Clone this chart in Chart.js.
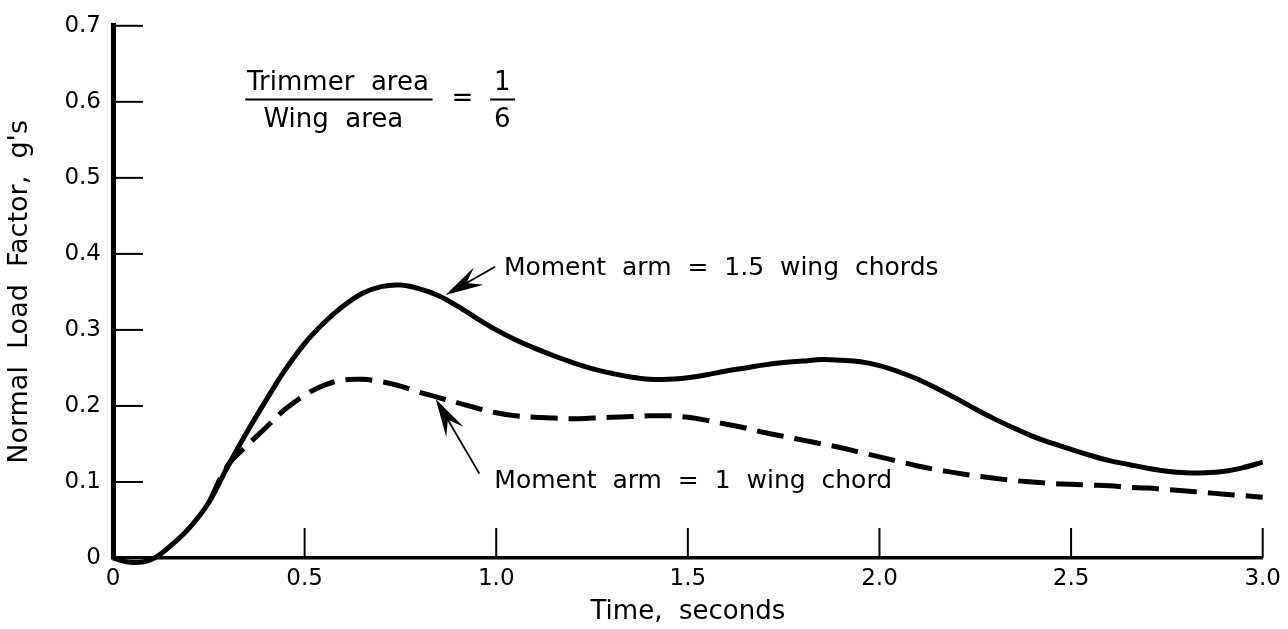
<!DOCTYPE html>
<html>
<head>
<meta charset="utf-8">
<script src="https://cdn.jsdelivr.net/npm/chart.js@4"></script>
<style>
  html, body { margin: 0; padding: 0; background: #fff; }
  #wrap { width: 1288px; height: 629px; }
</style>
</head>
<body>
<div id="wrap"><canvas id="loadChart" width="1288" height="629"></canvas></div>
<script>
// values
const xTicks = [0, 0.5, 1.0, 1.5, 2.0, 2.5, 3.0];
const yTicks = [0, 0.1, 0.2, 0.3, 0.4, 0.5, 0.6, 0.7];

// moment arm = 1.5 wing chords (solid), read every 0.05 s
const solidTime = [0, 0.05, 0.1, 0.15, 0.2, 0.25, 0.3, 0.35, 0.4, 0.45, 0.5, 0.55, 0.6, 0.65, 0.7, 0.75, 0.8, 0.85, 0.9, 0.95,
  1.0, 1.05, 1.1, 1.15, 1.2, 1.25, 1.3, 1.35, 1.4, 1.45, 1.5, 1.55, 1.6, 1.65, 1.7, 1.75, 1.8, 1.85, 1.9, 1.95,
  2.0, 2.05, 2.1, 2.15, 2.2, 2.25, 2.3, 2.35, 2.4, 2.45, 2.5, 2.55, 2.6, 2.65, 2.7, 2.75, 2.8, 2.85, 2.9, 2.95, 3.0];
const solidLoad = [0, -0.006, -0.002, 0.016, 0.04, 0.073, 0.121, 0.166, 0.208, 0.248, 0.282, 0.309, 0.331, 0.348, 0.357, 0.359, 0.354, 0.345, 0.331, 0.315,
  0.3, 0.287, 0.276, 0.266, 0.257, 0.249, 0.243, 0.238, 0.235, 0.235, 0.237, 0.241, 0.246, 0.25, 0.254, 0.257, 0.259, 0.261, 0.26, 0.258,
  0.253, 0.245, 0.235, 0.223, 0.21, 0.196, 0.183, 0.171, 0.16, 0.151, 0.143, 0.135, 0.128, 0.123, 0.118, 0.114, 0.112, 0.112, 0.114, 0.119, 0.126];

// moment arm = 1 wing chord (dashed), leaves the solid curve near 0.3 s
const dashTime = [0.25, 0.3, 0.35, 0.4, 0.45, 0.5, 0.55, 0.6, 0.65, 0.7, 0.75, 0.8, 0.85, 0.9, 0.95,
  1.0, 1.05, 1.1, 1.15, 1.2, 1.25, 1.3, 1.35, 1.4, 1.45, 1.5, 1.55, 1.6, 1.65, 1.7, 1.75, 1.8, 1.85, 1.9, 1.95,
  2.0, 2.05, 2.1, 2.15, 2.2, 2.25, 2.3, 2.35, 2.4, 2.45, 2.5, 2.55, 2.6, 2.65, 2.7, 2.75, 2.8, 2.85, 2.9, 2.95, 3.0];
const dashLoad = [0.073, 0.122, 0.148, 0.172, 0.196, 0.214, 0.227, 0.234, 0.235, 0.232, 0.226, 0.218, 0.211, 0.204, 0.197,
  0.191, 0.187, 0.185, 0.184, 0.183, 0.184, 0.185, 0.186, 0.187, 0.187, 0.185, 0.181, 0.176, 0.171, 0.165, 0.16, 0.155, 0.15, 0.145, 0.139,
  0.133, 0.127, 0.121, 0.116, 0.112, 0.108, 0.105, 0.102, 0.1, 0.098, 0.097, 0.096, 0.095, 0.093, 0.092, 0.09, 0.088, 0.086, 0.084, 0.082, 0.08];

const FONT = '"DejaVu Sans", sans-serif';

function toPoints(xs, ys) {
  return xs.map((x, i) => ({ x: x, y: ys[i] }));
}

// ticks pointing into the plot, like the original drawing
const inwardTicks = {
  id: 'inwardTicks',
  afterDraw(chart) {
    const { ctx, chartArea: a, scales } = chart;
    ctx.save();
    ctx.strokeStyle = '#000';
    ctx.lineWidth = 2;
    yTicks.forEach(v => {
      if (v === 0) return;
      const y = scales.y.getPixelForValue(v);
      ctx.beginPath(); ctx.moveTo(a.left, y); ctx.lineTo(a.left + 30, y); ctx.stroke();
    });
    xTicks.forEach(v => {
      if (v === 0) return;
      const x = scales.x.getPixelForValue(v);
      ctx.beginPath(); ctx.moveTo(x, a.bottom); ctx.lineTo(x, a.bottom - 30); ctx.stroke();
    });
    ctx.restore();
  }
};

function arrow(ctx, x1, y1, x2, y2) {
  const ang = Math.atan2(y2 - y1, x2 - x1);
  const len = 38, half = 10, notch = 24;
  const cx = Math.cos(ang), sy = Math.sin(ang);
  ctx.beginPath(); ctx.moveTo(x1, y1);
  ctx.lineTo(x2 - cx * notch, y2 - sy * notch);
  ctx.stroke();
  const bx = x2 - cx * len, by = y2 - sy * len;
  const nx = -sy * half, ny = cx * half;
  ctx.beginPath();
  ctx.moveTo(x2, y2);
  ctx.lineTo(bx + nx, by + ny);
  ctx.lineTo(x2 - cx * notch, y2 - sy * notch);
  ctx.lineTo(bx - nx, by - ny);
  ctx.closePath();
  ctx.fill();
}

const notes = {
  id: 'notes',
  afterDraw(chart) {
    const { ctx, scales: { x, y } } = chart;
    const px = v => x.getPixelForValue(v), py = v => y.getPixelForValue(v);
    ctx.save();
    ctx.fillStyle = '#000';
    ctx.strokeStyle = '#000';
    ctx.font = '25px ' + FONT;
    ctx.textBaseline = 'middle';

    // labels with arrows
    ctx.textAlign = 'left';
    ctx.fillText('Moment  arm  =  1.5  wing  chords', px(1.02), py(0.381));
    ctx.fillText('Moment  arm  =  1  wing  chord', px(0.995), py(0.101));
    ctx.lineWidth = 1.8;
    arrow(ctx, px(0.997), py(0.383), px(0.868), py(0.346));
    arrow(ctx, px(0.956), py(0.111), px(0.842), py(0.209));

    // area ratio
    ctx.font = '26px ' + FONT;
    ctx.textAlign = 'center';
    ctx.fillText('Trimmer  area', px(0.587), py(0.624));
    ctx.fillText('Wing  area', px(0.575), py(0.576));
    ctx.fillText('=', px(0.912), py(0.603));
    ctx.fillText('1', px(1.016), py(0.624));
    ctx.fillText('6', px(1.016), py(0.576));
    ctx.lineWidth = 2;
    ctx.beginPath();
    ctx.moveTo(px(0.345), py(0.603)); ctx.lineTo(px(0.834), py(0.603));
    ctx.moveTo(px(0.984), py(0.603)); ctx.lineTo(px(1.049), py(0.603));
    ctx.stroke();
    ctx.restore();
  }
};

new Chart(document.getElementById('loadChart'), {
  type: 'scatter',
  data: {
    datasets: [
      {
        label: 'Moment arm = 1.5 wing chords',
        data: toPoints(solidTime, solidLoad),
        showLine: true,
        borderColor: '#000',
        borderWidth: 5,
        pointRadius: 0,
        tension: 0.4,
        clip: false
      },
      {
        label: 'Moment arm = 1 wing chord',
        data: toPoints(dashTime, dashLoad),
        showLine: true,
        borderColor: '#000',
        borderWidth: 5,
        borderDash: [27, 11],
        pointRadius: 0,
        tension: 0.4,
        clip: false
      }
    ]
  },
  options: {
    responsive: false,
    animation: false,
    events: [],
    layout: { padding: { top: 20, right: 15, bottom: 0, left: 0 } },
    plugins: { legend: { display: false }, tooltip: { enabled: false } },
    scales: {
      x: {
        type: 'linear',
        min: 0,
        max: 3,
        afterFit(scale) { scale.height = 71; },
        afterBuildTicks(scale) { scale.ticks = xTicks.map(v => ({ value: v })); },
        grid: { display: false, drawTicks: false },
        border: { display: true, color: '#000', width: 3.5 },
        ticks: {
          color: '#000',
          font: { family: FONT, size: 23 },
          padding: 7,
          maxRotation: 0,
          callback: v => (v === 0 ? '0' : v.toFixed(1))
        },
        title: {
          display: true,
          text: 'Time,  seconds',
          color: '#000',
          font: { family: FONT, size: 26 },
          padding: { top: 0, bottom: 1 }
        }
      },
      y: {
        type: 'linear',
        min: 0,
        max: 0.7,
        afterFit(scale) { scale.width = 113; },
        afterBuildTicks(scale) { scale.ticks = yTicks.map(v => ({ value: v })); },
        grid: { display: false, drawTicks: false },
        border: { display: true, color: '#000', width: 5 },
        ticks: {
          color: '#000',
          font: { family: FONT, size: 23 },
          padding: 12,
          callback: v => (v === 0 ? '0' : v.toFixed(1))
        },
        title: {
          display: true,
          text: "Normal  Load  Factor,  g's",
          color: '#000',
          font: { family: FONT, size: 27 },
          padding: { top: 4, bottom: 0 }
        }
      }
    }
  },
  plugins: [inwardTicks, notes]
});
</script>
</body>
</html>
